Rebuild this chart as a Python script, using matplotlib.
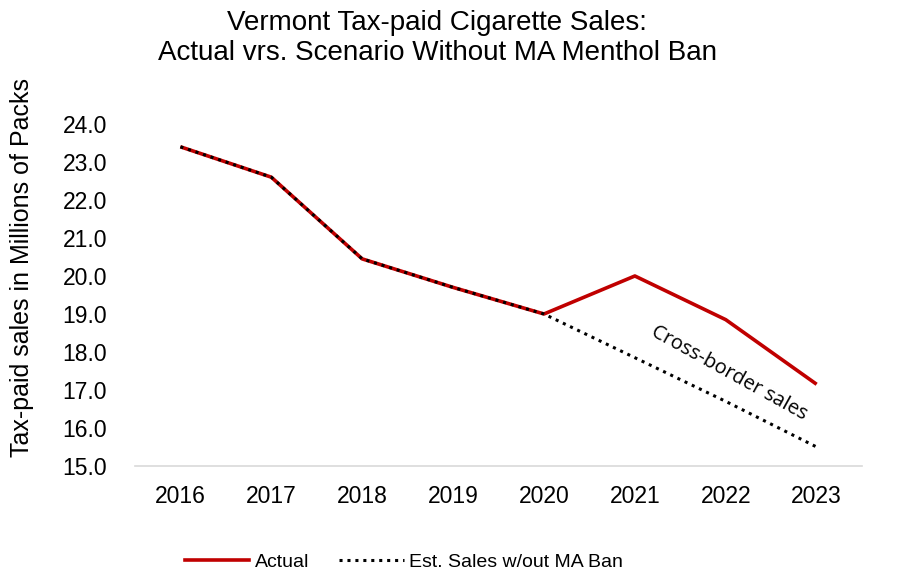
import matplotlib
matplotlib.use("Agg")
import matplotlib.pyplot as plt
from matplotlib.lines import Line2D

years = ["2016", "2017", "2018", "2019", "2020", "2021", "2022", "2023"]
actual = [23.4, 22.6, 20.45, 19.7, 19.0, 20.0, 18.85, 17.15]
estimated = [23.4, 22.6, 20.45, 19.7, 19.0, 17.85, 16.7, 15.5]
yticks = [15, 16, 17, 18, 19, 20, 21, 22, 23, 24]

fig = plt.figure(figsize=(8.98, 5.78), dpi=100)
ax = fig.add_axes([0.1503, 0.1938, 0.8097, 0.5917])

x = list(range(len(years)))
ax.plot(x, actual, color="#C00000", lw=2.6, solid_capstyle="butt", zorder=3)
ax.plot(x, estimated, color="black", lw=2.2, linestyle=(0, (1, 1.6)), zorder=4)

ax.set_xlim(-0.5, len(years) - 0.5)
ax.set_ylim(15, 24)
ax.set_yticks(yticks)
ax.set_yticklabels([f"{v:.1f}" for v in yticks])
ax.set_xticks(x)
ax.set_xticklabels(years)

for s in ["top", "right", "left"]:
    ax.spines[s].set_visible(False)
ax.spines["bottom"].set_color("#D9D9D9")
ax.spines["bottom"].set_linewidth(1.2)
ax.tick_params(axis="both", length=0, labelsize=16.5, colors="black")
ax.tick_params(axis="y", pad=20)
ax.tick_params(axis="x", pad=14)
for lab in ax.get_xticklabels() + ax.get_yticklabels():
    lab.set_family("Liberation Sans")

ylab = ax.set_ylabel("Tax-paid sales in Millions of Packs", fontsize=18,
                     family="Liberation Sans")
ylab.set_verticalalignment("center")
ax.yaxis.set_label_coords(-0.155, 0.579)

fig.text(0.487, 0.960, "Vermont Tax-paid Cigarette Sales:", ha="center", va="center",
         fontsize=20, family="Liberation Sans")
fig.text(0.487, 0.908, "Actual vrs. Scenario Without MA Menthol Ban", ha="center",
         va="center", fontsize=20, family="Liberation Sans")

ax.text(6.035, 17.44, "Cross-border sales", rotation=-29, ha="center", va="center",
        fontsize=14.5, family="Open Sans", rotation_mode="anchor")

handles = [Line2D([], [], color="#C00000", lw=2.6),
           Line2D([], [], color="black", lw=2.2, linestyle=(0, (1, 1.6)))]
leg = fig.legend(handles, ["Actual", "Est. Sales w/out MA Ban"], loc="center",
                 bbox_to_anchor=(0.45, 0.028), ncol=2, frameon=False,
                 prop={"family": "Liberation Sans", "size": 14},
                 handlelength=3.3, columnspacing=1.55, handletextpad=0.3)

fig.savefig("out.png", dpi=100)
